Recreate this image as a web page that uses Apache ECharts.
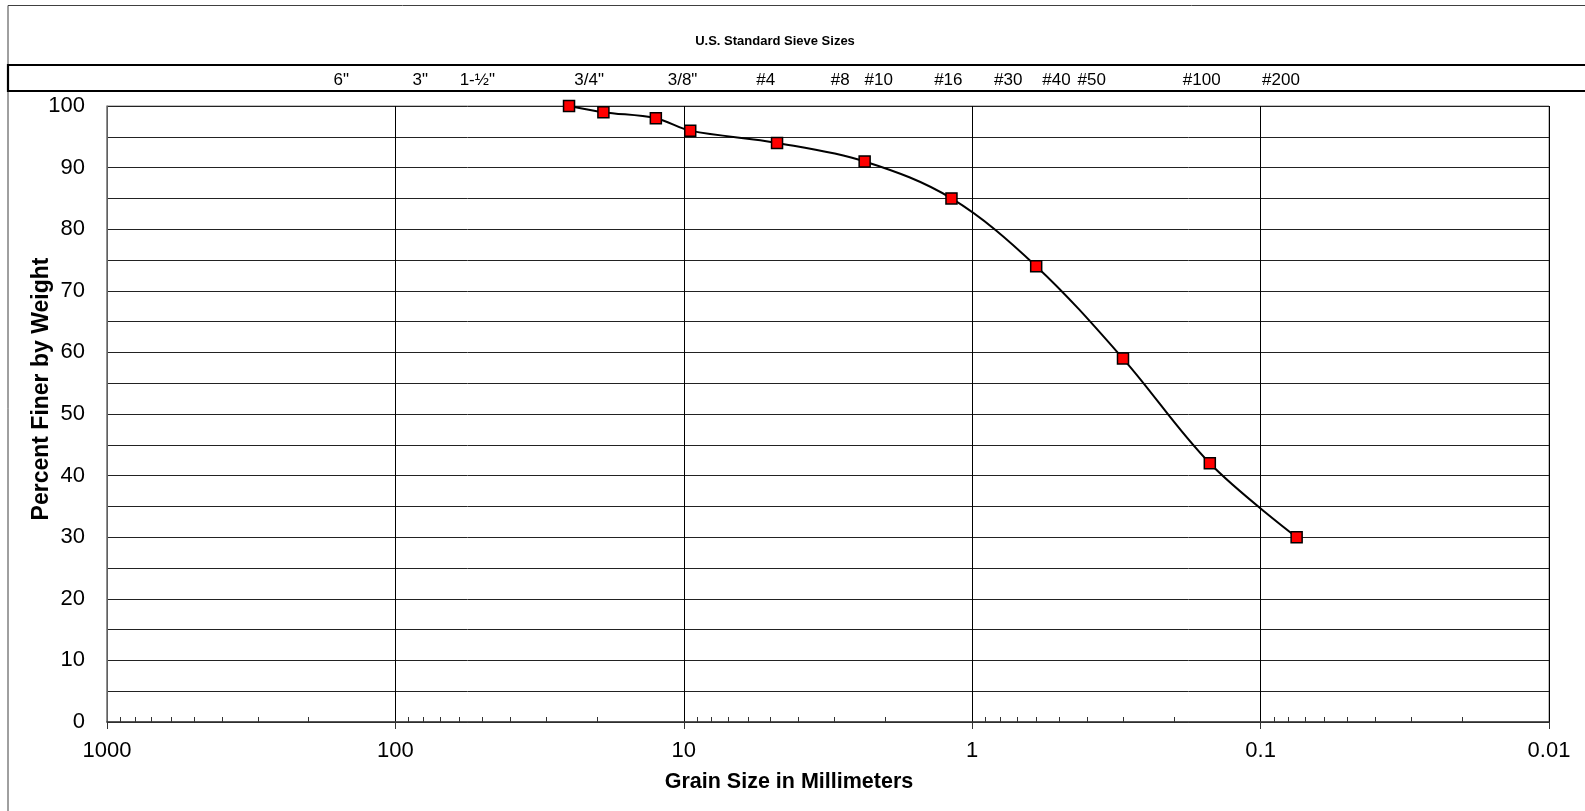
<!DOCTYPE html>
<html>
<head>
<meta charset="utf-8">
<title>Grain Size Distribution</title>
<script src="https://cdn.jsdelivr.net/npm/echarts@6/dist/echarts.min.js"></script>
<style>
  html, body { margin: 0; padding: 0; background: #ffffff; }
  #chart { width: 1585px; height: 811px; }
</style>
</head>
<body>
<div id="chart"></div>
<script>
// Sieve analysis results: grain size (mm) and percent passing
const sizeMm = [25, 19, 12.5, 9.5, 4.75, 2.36, 1.18, 0.6, 0.3, 0.15, 0.075];
const percentFiner = [100, 99, 98, 96, 94, 91, 85, 74, 59, 42, 30];

// U.S. standard sieve designations and where their captions sit along the size axis (mm)
const sieveNames = ['6"', '3"', '1-½"', '3/4"', '3/8"', '#4', '#8', '#10', '#16', '#30', '#40', '#50', '#100', '#200'];
const sieveLabelMm = [154, 82, 52, 21.3, 10.1, 5.2, 2.87, 2.11, 1.21, 0.75, 0.51, 0.385, 0.16, 0.085];

// Log-axis minor ticks: 2..9 within each decade from 0.01 to 1000
const minorTickMm = [];
for (let e = -2; e <= 2; e++) {
  for (let m = 2; m <= 9; m++) minorTickMm.push(+(m * Math.pow(10, e)).toPrecision(3));
}

const FONT = "'Liberation Sans', Arial, Helvetica, sans-serif";

function fmtNum(v) {
  return String(parseFloat(Number(v).toPrecision(6)));
}
function sieveNameFor(v) {
  let best = 0, bestD = Infinity;
  for (let i = 0; i < sieveLabelMm.length; i++) {
    const d = Math.abs(Math.log10(v) - Math.log10(sieveLabelMm[i]));
    if (d < bestD) { bestD = d; best = i; }
  }
  return sieveNames[best];
}

const chart = echarts.init(document.getElementById('chart'), null, { renderer: 'canvas' });

const option = {
  backgroundColor: '#ffffff',
  animation: false,
  grid: {
    left: 107, right: 36, top: 106, bottom: 89,
    show: true, borderColor: '#808080', borderWidth: 1, backgroundColor: 'transparent'
  },
  xAxis: [
    {
      type: 'log', logBase: 10, min: 0.01, max: 1000, inverse: true,
      position: 'bottom',
      axisLine: { show: true, onZero: false, lineStyle: { color: '#333', width: 1.5 } },
      axisTick: { show: true, inside: false, length: 7, lineStyle: { color: '#333', width: 1 } },
      splitLine: { show: true, lineStyle: { color: '#000', width: 1 } },
      axisLabel: { fontFamily: FONT, fontSize: 22, color: '#000', margin: 18, formatter: fmtNum }
    },
    {
      type: 'log', logBase: 10, min: 0.01, max: 1000, inverse: true,
      position: 'bottom',
      axisLine: { show: false },
      splitLine: { show: false },
      axisLabel: { show: false },
      axisTick: { show: true, inside: true, length: 5, customValues: minorTickMm,
                  lineStyle: { color: '#333', width: 1 } }
    },
    {
      type: 'log', logBase: 10, min: 0.01, max: 1000, inverse: true,
      position: 'top',
      axisLine: { show: false },
      axisTick: { show: false },
      splitLine: { show: false },
      axisLabel: { show: true, customValues: sieveLabelMm, fontFamily: FONT, fontSize: 17,
                   color: '#000', margin: 17, formatter: sieveNameFor }
    }
  ],
  yAxis: {
    type: 'value', min: 0, max: 100, interval: 5,
    axisLine: { show: true, lineStyle: { color: '#808080', width: 1.5 } },
    axisTick: { show: false },
    splitLine: { show: true, lineStyle: { color: '#222', width: 1 } },
    axisLabel: {
      fontFamily: FONT, fontSize: 22, color: '#000', margin: 22,
      formatter: v => (v % 10 === 0 ? String(v) : '')
    }
  },
  series: [
    {
      type: 'line',
      xAxisIndex: 0,
      data: sizeMm.map((s, i) => [s, percentFiner[i]]),
      smooth: 0.35,
      symbol: 'rect',
      symbolSize: 11,
      lineStyle: { color: '#000', width: 2 },
      itemStyle: { color: '#ff0000', borderColor: '#000', borderWidth: 1.5 },
      z: 5
    }
  ],
  graphic: [
    { type: 'rect', silent: true, z: 0,
      shape: { x: 8, y: 5.5, width: 1600, height: 900 },
      style: { fill: 'none', stroke: '#404040', lineWidth: 1 } },
    { type: 'rect', silent: true, z: 0,
      shape: { x: 8, y: 65, width: 1600, height: 26 },
      style: { fill: 'none', stroke: '#000', lineWidth: 2.2 } },
    { type: 'text', silent: true, x: 775, y: 41.5,
      style: { text: 'U.S. Standard Sieve Sizes', font: 'bold 13px ' + FONT, fill: '#000',
               align: 'center', verticalAlign: 'middle' } },
    { type: 'text', silent: true, x: 789, y: 782,
      style: { text: 'Grain Size in Millimeters', font: 'bold 21.5px ' + FONT, fill: '#000',
               align: 'center', verticalAlign: 'middle' } },
    { type: 'text', silent: true, x: 41.5, y: 389, rotation: Math.PI / 2,
      style: { text: 'Percent Finer by Weight', font: 'bold 23px ' + FONT, fill: '#000',
               align: 'center', verticalAlign: 'middle' } }
  ]
};

chart.setOption(option);
</script>
</body>
</html>
